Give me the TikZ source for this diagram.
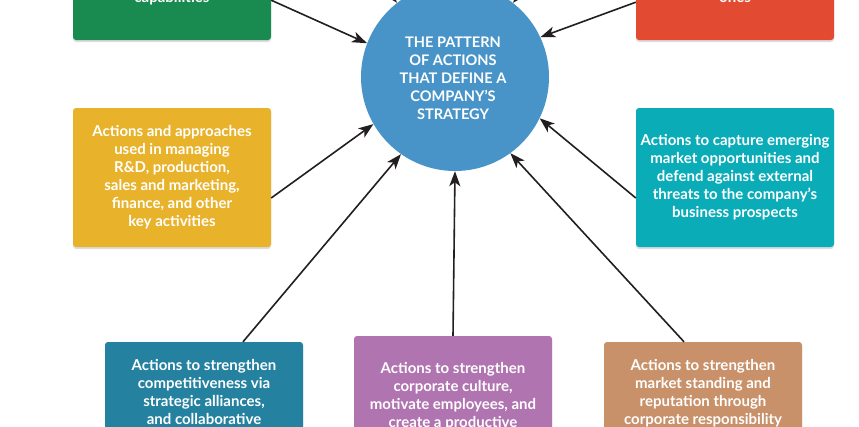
\documentclass[tikz,border=0pt]{standalone}
\usepackage{fontspec}
\setmainfont{Lato}
\usetikzlibrary{arrows.meta,shadows,calc}
\definecolor{cgreen}{RGB}{26,139,80}
\definecolor{cred}{RGB}{226,75,50}
\definecolor{cyellow}{RGB}{232,178,42}
\definecolor{cteal}{RGB}{10,172,184}
\definecolor{cblue}{RGB}{36,130,160}
\definecolor{cpurple}{RGB}{176,116,176}
\definecolor{ctan}{RGB}{200,145,106}
\definecolor{ccircle}{RGB}{72,148,200}
\definecolor{carrow}{RGB}{35,31,32}
\tikzset{
  box/.style={rectangle, rounded corners=3pt, minimum width=198pt, minimum height=139pt,
    inner sep=0pt, draw=none, text=white, align=center,
    font=\fontsize{15}{18}\selectfont\bfseries,
    drop shadow={shadow xshift=0pt, shadow yshift=-2pt, opacity=0.22, fill=black!60}},
  boxtext/.style={text=white, align=center, inner sep=0pt,
    font=\fontsize{15}{18}\selectfont\bfseries},
  arr/.style={draw=carrow, line width=1.6pt,
    -{Stealth[length=15pt,width=11pt,inset=4pt]}},
}
\begin{document}
\begin{tikzpicture}[x=1pt,y=-1pt]
\useasboundingbox (0,0) rectangle (859,426);
\clip (0,0) rectangle (859,426);
\fill[white] (0,0) rectangle (859,426);

% central circle
\node[circle, fill=ccircle, minimum size=188pt, inner sep=0pt] (core) at (455,77) {};
\node[text=white, align=center, inner sep=0pt,
  font=\fontsize{14.6}{18}\selectfont\bfseries] (coretext) at (453,78)
  {THE PATTERN\\OF ACTIONS\\THAT DEFINE A\\COMPANY’S\\STRATEGY};

% boxes
\node[box, fill=cgreen] (green) at (172,-29.5) {};
\node[boxtext, anchor=base] (greentext) at (172,2) {capabilities};
\node[box, fill=cred] (red) at (735,-29.5) {};
\node[boxtext, anchor=base] (redtext) at (735,2) {ones};
\node[box, fill=cyellow] (yellow) at (172,177.5)
  {Actions and approaches\\used in managing\\R\&D, production,\\sales and marketing,\\finance, and other\\key activities};
\node[box, fill=cteal] (teal) at (735,177.5)
  {Actions to capture emerging\\market opportunities and\\defend against external\\threats to the company’s\\business prospects};
\node[box, fill=cblue] (blue) at (204,411.5) {};
\node[boxtext, anchor=base] (bluetext) at (204,424)
  {Actions to strengthen\\competitiveness via\\strategic alliances,\\and collaborative};
\node[box, fill=cpurple] (purple) at (453,405.5) {};
\node[boxtext, anchor=base] (purpletext) at (453,427)
  {Actions to strengthen\\corporate culture,\\motivate employees, and\\create a productive};
\node[box, fill=ctan] (tan) at (703,411.5) {};
\node[boxtext, anchor=base] (tantext) at (703,424)
  {Actions to strengthen\\market standing and\\reputation through\\corporate responsibility};

% free ends of the arrows from boxes above the picture
\coordinate (topleft) at (362,-40);
\coordinate (topright) at (550,-40);

% connectors
\draw[arr] ([yshift=40pt]green.south east) -- (core.159);
\draw[arr] ([yshift=38pt]red.south west) -- (core.25);
\draw[arr] ([yshift=-20.5pt]yellow.east) -- (core.210);
\draw[arr] ([yshift=-20.5pt]teal.west) -- (core.334);
\draw[arr] ([xshift=39pt]blue.north) -- (core.235);
\draw[arr] (purple.north) -- (core.270);
\draw[arr] ([xshift=-19pt]tan.north) -- (core.306);
\draw[arr] (topleft) -- (core.128);
\draw[arr] (topright) -- (core.52);
\end{tikzpicture}
\end{document}
